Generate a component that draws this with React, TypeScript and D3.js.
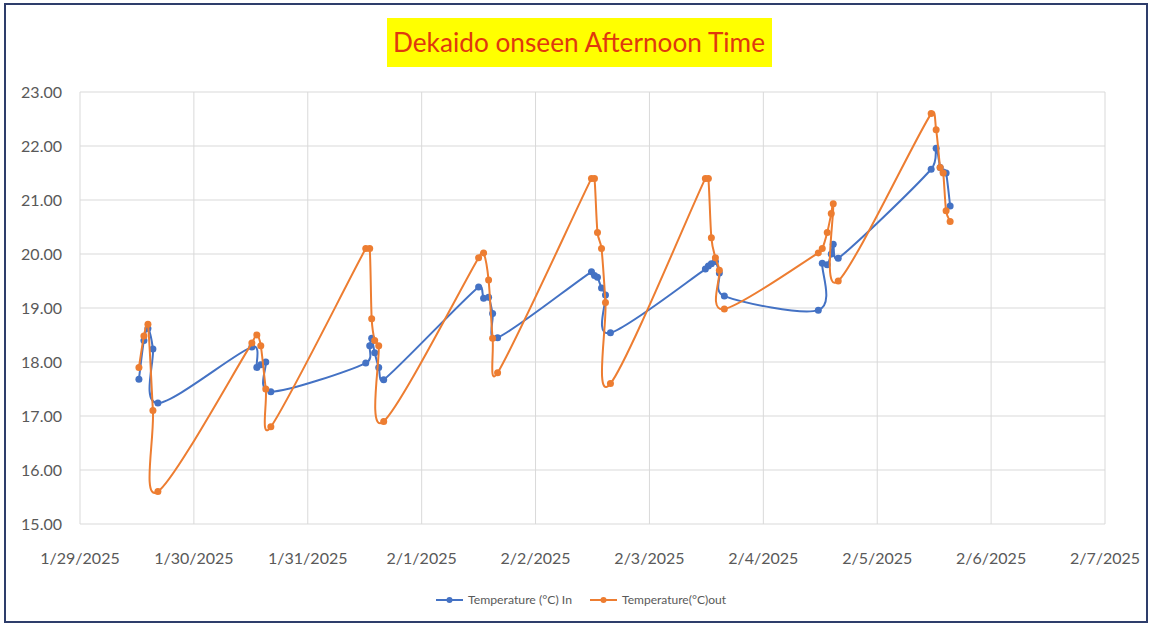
import { useEffect, useRef } from 'react'
import * as d3 from 'd3'

// Reading times (afternoon sessions)
const TIMES = [
  '2025-01-29 12:25', '2025-01-29 13:28', '2025-01-29 14:19', '2025-01-29 15:22', '2025-01-29 16:25',
  '2025-01-30 12:13', '2025-01-30 13:16', '2025-01-30 14:06', '2025-01-30 15:09', '2025-01-30 16:13',
  '2025-01-31 12:13', '2025-01-31 13:03', '2025-01-31 13:28', '2025-01-31 14:06', '2025-01-31 14:57', '2025-01-31 16:00',
  '2025-02-01 12:00', '2025-02-01 13:03', '2025-02-01 14:06', '2025-02-01 14:57', '2025-02-01 16:00',
  '2025-02-02 11:47', '2025-02-02 12:25', '2025-02-02 13:03', '2025-02-02 13:54', '2025-02-02 14:44', '2025-02-02 15:47',
  '2025-02-03 11:47', '2025-02-03 12:25', '2025-02-03 13:03', '2025-02-03 13:54', '2025-02-03 14:44', '2025-02-03 15:47',
  '2025-02-04 11:35', '2025-02-04 12:25', '2025-02-04 13:28', '2025-02-04 14:19', '2025-02-04 14:44', '2025-02-04 15:47',
  '2025-02-05 11:22', '2025-02-05 12:25', '2025-02-05 13:16', '2025-02-05 13:54', '2025-02-05 14:31', '2025-02-05 15:22',
]

const TEMP_IN = [
  17.68, 18.4, 18.62, 18.24, 17.24,
  18.28, 17.9, 17.95, 18.0, 17.45,
  17.98, 18.3, 18.44, 18.17, 17.9, 17.67,
  19.39, 19.18, 19.2, 18.9, 18.45,
  19.67, 19.6, 19.57, 19.37, 19.24, 18.54,
  19.72, 19.78, 19.82, 19.86, 19.65, 19.22,
  18.96, 19.83, 19.8, 20.0, 20.18, 19.92,
  21.57, 21.96, 21.6, 21.52, 21.5, 20.89,
]

const TEMP_OUT = [
  17.9, 18.48, 18.7, 17.1, 15.6,
  18.35, 18.5, 18.3, 17.5, 16.8,
  20.1, 20.1, 18.8, 18.4, 18.3, 16.9,
  19.93, 20.02, 19.52, 18.44, 17.8,
  21.4, 21.4, 20.4, 20.1, 19.1, 17.6,
  21.4, 21.4, 20.3, 19.93, 19.7, 18.98,
  20.02, 20.1, 20.4, 20.75, 20.93, 19.5,
  22.6, 22.3, 21.6, 21.5, 20.8, 20.6,
]

const SERIES = [
  { name: 'Temperature (°C) In', values: TEMP_IN, color: '#4472C4' },
  { name: 'Temperature(°C)out', values: TEMP_OUT, color: '#ED7D31' },
]

const Y_TICKS = [15, 16, 17, 18, 19, 20, 21, 22, 23]

const WIDTH = 1151
const HEIGHT = 626
const FONT = 'Lato, "Open Sans", sans-serif'

// Excel-style smoothing: cardinal bezier arms, capped at half the segment length
class ExcelSmooth {
  _context: any
  _pts: [number, number][] = []
  constructor(context: any) { this._context = context }
  areaStart() {}
  areaEnd() {}
  lineStart() { this._pts = [] }
  point(x: number, y: number) { this._pts.push([+x, +y]) }
  lineEnd() {
    const p = this._pts
    const ctx = this._context
    const n = p.length
    if (!n) return
    ctx.moveTo(p[0][0], p[0][1])
    for (let i = 0; i < n - 1; i++) {
      const p0 = p[Math.max(i - 1, 0)]
      const p1 = p[i]
      const p2 = p[i + 1]
      const p3 = p[Math.min(i + 2, n - 1)]
      const d = Math.hypot(p2[0] - p1[0], p2[1] - p1[1])
      let ax = (p2[0] - p0[0]) / 6
      let ay = (p2[1] - p0[1]) / 6
      let bx = (p3[0] - p1[0]) / 6
      let by = (p3[1] - p1[1]) / 6
      const la = Math.hypot(ax, ay)
      const lb = Math.hypot(bx, by)
      if (la > d / 2) { ax *= d / 2 / la; ay *= d / 2 / la }
      if (lb > d / 2) { bx *= d / 2 / lb; by *= d / 2 / lb }
      ctx.bezierCurveTo(p1[0] + ax, p1[1] + ay, p2[0] - bx, p2[1] - by, p2[0], p2[1])
    }
  }
}
const curveExcel = (context: any) => new ExcelSmooth(context)

const App = () => {
  const svgRef = useRef<SVGSVGElement>(null)

  useEffect(() => {
    if (!svgRef.current) return
    const svg = d3.select(svgRef.current)
    svg.selectAll('*').remove()

    const parse = d3.timeParse('%Y-%m-%d %H:%M')
    const dates = TIMES.map(t => parse(t) as Date)

    const x = d3.scaleTime()
      .domain([new Date(2025, 0, 29), new Date(2025, 1, 7)])
      .range([80, 1105])
    const y = d3.scaleLinear().domain([15, 23]).range([524, 92])

    // frame
    svg.append('rect')
      .attr('x', 0).attr('y', 0).attr('width', WIDTH).attr('height', HEIGHT)
      .attr('fill', '#fff')
    svg.append('rect')
      .attr('x', 5).attr('y', 4).attr('width', WIDTH - 9).attr('height', HEIGHT - 8)
      .attr('fill', '#fff')
      .attr('stroke', '#2E3D6B')
      .attr('stroke-width', 2)

    // title
    svg.append('rect')
      .attr('x', 387).attr('y', 18).attr('width', 385).attr('height', 49)
      .attr('fill', '#FFFF00')
    svg.append('text')
      .attr('x', 579).attr('y', 52)
      .attr('text-anchor', 'middle')
      .attr('font-family', FONT)
      .attr('font-size', 27)
      .attr('fill', '#E0380E')
      .attr('textLength', 372)
      .attr('lengthAdjust', 'spacingAndGlyphs')
      .text('Dekaido onseen Afternoon Time')

    // grid
    const dayTicks = x.ticks(d3.timeDay.every(1)!)
    svg.append('g')
      .selectAll('line')
      .data(Y_TICKS)
      .join('line')
      .attr('x1', 80).attr('x2', 1105)
      .attr('y1', d => y(d)).attr('y2', d => y(d))
      .attr('stroke', '#D9D9D9')
    svg.append('g')
      .selectAll('line')
      .data(dayTicks)
      .join('line')
      .attr('x1', d => x(d)).attr('x2', d => x(d))
      .attr('y1', 92).attr('y2', 524)
      .attr('stroke', '#D9D9D9')

    // y labels
    svg.append('g')
      .selectAll('text')
      .data(Y_TICKS)
      .join('text')
      .attr('x', 62)
      .attr('y', d => y(d) + 6)
      .attr('text-anchor', 'end')
      .attr('font-family', FONT)
      .attr('font-size', 16)
      .attr('fill', '#595959')
      .text(d => d3.format('.2f')(d))

    // x labels
    const fmt = d3.timeFormat('%-m/%-d/%Y')
    svg.append('g')
      .selectAll('text')
      .data(dayTicks)
      .join('text')
      .attr('x', d => x(d))
      .attr('y', 564)
      .attr('text-anchor', 'middle')
      .attr('font-family', FONT)
      .attr('font-size', 16)
      .attr('fill', '#595959')
      .text(d => fmt(d))

    // series
    const line = d3.line<number>()
      .x((d, i) => x(dates[i]))
      .y(d => y(d))
      .curve(curveExcel as any)

    SERIES.forEach(s => {
      const g = svg.append('g')
      g.append('path')
        .attr('d', line(s.values) || '')
        .attr('fill', 'none')
        .attr('stroke', s.color)
        .attr('stroke-width', 2)
      g.selectAll('circle')
        .data(s.values)
        .join('circle')
        .attr('cx', (d, i) => x(dates[i]))
        .attr('cy', d => y(d))
        .attr('r', 3.5)
        .attr('fill', s.color)
    })

    // legend
    const legendX = [436, 590]
    SERIES.forEach((s, i) => {
      const lg = svg.append('g').attr('transform', `translate(${legendX[i]}, 600)`)
      lg.append('line')
        .attr('x1', 0).attr('x2', 27).attr('y1', 0).attr('y2', 0)
        .attr('stroke', s.color).attr('stroke-width', 2)
      lg.append('circle').attr('cx', 13.5).attr('cy', 0).attr('r', 3).attr('fill', s.color)
      lg.append('text')
        .attr('x', 32).attr('y', 4)
        .attr('font-family', FONT)
        .attr('font-size', 11)
        .attr('fill', '#595959')
        .attr('textLength', 104)
        .attr('lengthAdjust', 'spacingAndGlyphs')
        .text(s.name)
    })
  }, [])

  return (
    <div style={{ position: 'absolute', left: 0, top: 0 }}>
      <svg ref={svgRef} width={WIDTH} height={HEIGHT} style={{ display: 'block' }}></svg>
    </div>
  )
}

export default App
